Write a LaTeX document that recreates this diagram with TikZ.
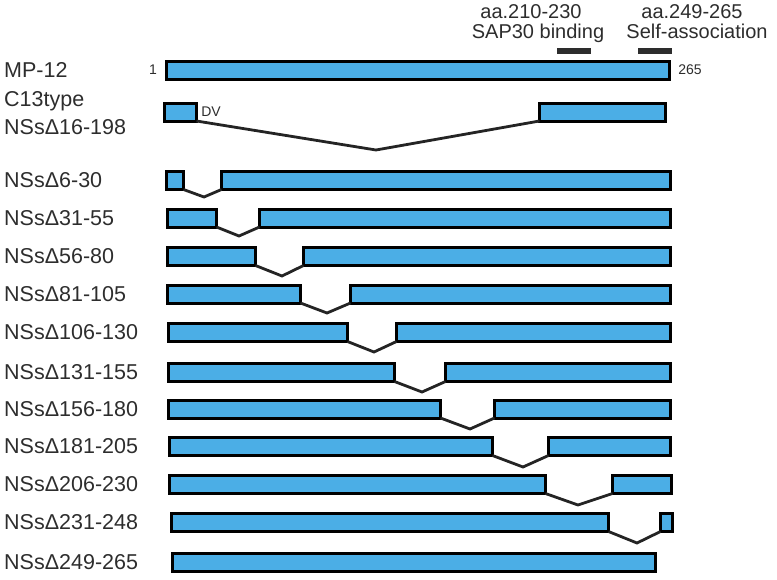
\documentclass[tikz,border=0pt]{standalone}
\usepackage{fontspec}
\setmainfont{Liberation Sans}
\definecolor{barblue}{RGB}{75,174,230}
\definecolor{txtgray}{RGB}{45,45,45}
\begin{document}
\begin{tikzpicture}[
    x=1pt, y=-1pt,
    bar/.style={rectangle, draw=black, fill=barblue, line width=3pt, inner sep=0pt, outer sep=0pt, minimum height=18pt},
    domainbar/.style={rectangle, fill=txtgray, inner sep=0pt, minimum width=34pt, minimum height=6pt},
    rowlabel/.style={anchor=west, text=txtgray, inner sep=0pt, font=\fontsize{21.5}{24}\selectfont},
    headtext/.style={anchor=base, text=txtgray, inner sep=0pt, font=\fontsize{20}{24}\selectfont},
    numtext/.style={text=txtgray, inner sep=0pt, font=\fontsize{14}{16}\selectfont},
    gapline/.style={line width=2.8pt, draw=txtgray!80!black}
]
  \useasboundingbox (0,0) rectangle (777,579);

  % header
  \node[headtext] (sapa)  at (531,18.5) {aa.210-230};
  \node[headtext] (sapb)  at (538,38.5) {SAP30 binding};
  \node[headtext] (selfa) at (692,18.5) {aa.249-265};
  \node[headtext] (selfb) at (697,38.5) {Self-association};
  \node[domainbar] (sap) at (574,51) {};
  \node[domainbar] (self) at (655,51) {};

  % labels
  \node[rowlabel] (lmp)   at (4,70)    {MP-12};
  \node[rowlabel] (lc13a) at (4,101)   {C13type};
  \node[rowlabel] (lc13b) at (4,127)   {NSsΔ16-198};
  \node[rowlabel] (l6)    at (4,180.5) {NSsΔ6-30};
  \node[rowlabel] (l31)   at (4,218)   {NSsΔ31-55};
  \node[rowlabel] (l56)   at (4,256.5) {NSsΔ56-80};
  \node[rowlabel] (l81)   at (4,294)   {NSsΔ81-105};
  \node[rowlabel] (l106)  at (4,332.5) {NSsΔ106-130};
  \node[rowlabel] (l131)  at (4,372.5) {NSsΔ131-155};
  \node[rowlabel] (l156)  at (4,409)   {NSsΔ156-180};
  \node[rowlabel] (l181)  at (4,446.5) {NSsΔ181-205};
  \node[rowlabel] (l206)  at (4,484.5) {NSsΔ206-230};
  \node[rowlabel] (l231)  at (4,522.5) {NSsΔ231-248};
  \node[rowlabel] (l249)  at (4,562.5) {NSsΔ249-265};

  % full length
  \node[bar, minimum width=503pt] (mp) at (418,70) {};
  \node[numtext] (n1)   at (153,70) {1};
  \node[numtext] (n265) at (690,70) {265};

  % C13type
  \node[bar, minimum width=32pt]  (c13l) at (180.5,112) {};
  \node[bar, minimum width=126pt] (c13r) at (602.5,112) {};
  \node[numtext] (dv) at (211,112) {DV};
  \coordinate (vc13) at (376,150);

  % deletion mutants
  \node[bar, minimum width=17pt]  (d6l)   at (175,180.5) {};
  \node[bar, minimum width=449pt] (d6r)   at (446,180.5) {};
  \node[bar, minimum width=49pt]  (d31l)  at (192,218) {};
  \node[bar, minimum width=411pt] (d31r)  at (465,218) {};
  \node[bar, minimum width=88pt]  (d56l)  at (211.5,256.5) {};
  \node[bar, minimum width=367pt] (d56r)  at (487,256.5) {};
  \node[bar, minimum width=133pt] (d81l)  at (234,294) {};
  \node[bar, minimum width=320pt] (d81r)  at (510.5,294) {};
  \node[bar, minimum width=179pt] (d106l) at (258,332.5) {};
  \node[bar, minimum width=274pt] (d106r) at (533.5,332.5) {};
  \node[bar, minimum width=226pt] (d131l) at (281.5,372.5) {};
  \node[bar, minimum width=225pt] (d131r) at (558,372.5) {};
  \node[bar, minimum width=272pt] (d156l) at (304.5,409) {};
  \node[bar, minimum width=176pt] (d156r) at (582.5,409) {};
  \node[bar, minimum width=323pt] (d181l) at (331,446.5) {};
  \node[bar, minimum width=122pt] (d181r) at (609.5,446.5) {};
  \node[bar, minimum width=376pt] (d206l) at (357.5,484.5) {};
  \node[bar, minimum width=59pt]  (d206r) at (642,484.5) {};
  \node[bar, minimum width=437pt] (d231l) at (390,522.5) {};
  \node[bar, minimum width=12pt]  (d231r) at (666.5,522.5) {};
  \node[bar, minimum width=483pt] (d249)  at (414,562.5) {};

  \coordinate (v6)   at (204,197);
  \coordinate (v31)  at (239,236);
  \coordinate (v56)  at (282,276);
  \coordinate (v81)  at (327,313);
  \coordinate (v106) at (374,352);
  \coordinate (v131) at (422,392);
  \coordinate (v156) at (470,429);
  \coordinate (v181) at (523,467);
  \coordinate (v206) at (578,505);
  \coordinate (v231) at (637,543);

  % gaps
  \draw[gapline] (c13l.south east) -- (vc13) -- (c13r.south west);
  \draw[gapline] (d6l.south east) -- (v6) -- (d6r.south west);
  \draw[gapline] (d31l.south east) -- (v31) -- (d31r.south west);
  \draw[gapline] (d56l.south east) -- (v56) -- (d56r.south west);
  \draw[gapline] (d81l.south east) -- (v81) -- (d81r.south west);
  \draw[gapline] (d106l.south east) -- (v106) -- (d106r.south west);
  \draw[gapline] (d131l.south east) -- (v131) -- (d131r.south west);
  \draw[gapline] (d156l.south east) -- (v156) -- (d156r.south west);
  \draw[gapline] (d181l.south east) -- (v181) -- (d181r.south west);
  \draw[gapline] (d206l.south east) -- (v206) -- (d206r.south west);
  \draw[gapline] (d231l.south east) -- (v231) -- (d231r.south west);
\end{tikzpicture}
\end{document}
